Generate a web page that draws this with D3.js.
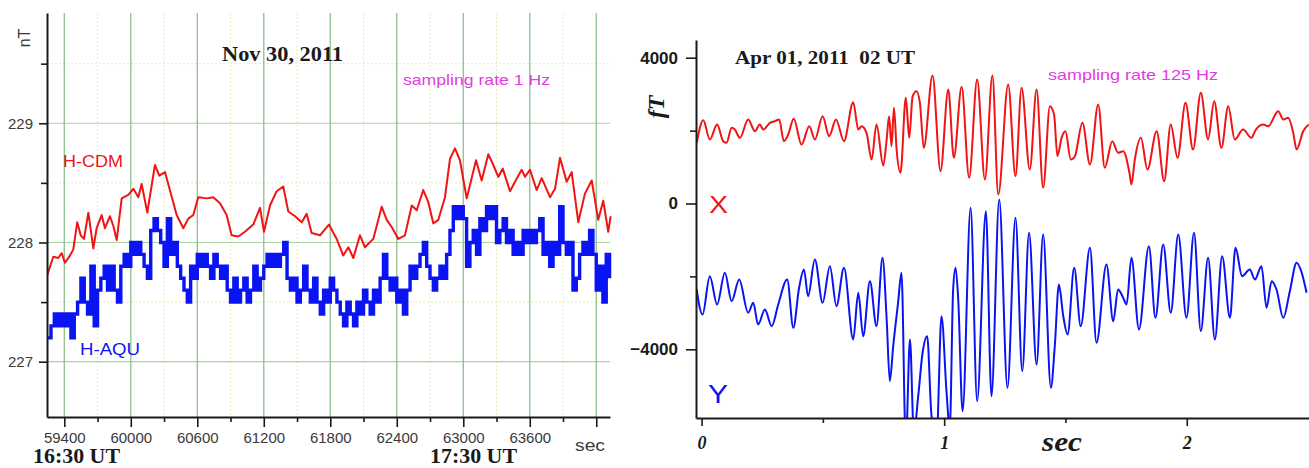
<!DOCTYPE html>
<html>
<head>
<meta charset="utf-8">
<script src="https://d3js.org/d3.v7.min.js"></script>
<style>
  body { margin: 0; background: #fff; }
  svg { display: block; }
</style>
</head>
<body>
<script>
// ---------- left panel data (Nov 30, 2011, 1 Hz) ----------
const leftMajorTicks = [59400, 60000, 60600, 61200, 61800, 62400, 63000, 63600, 64200];
const leftMinorTicks = [59700, 60300, 60900, 61500, 62100, 62700, 63300, 63900];
const leftTickLabels = ['59400', '60000', '60600', '61200', '61800', '62400', '63000', '63600', ''];
const leftYTicks = [227, 228, 229];
const leftYMinor = [227.5, 228.5, 229.5];

// H-CDM, [sec, nT]
const cdmSeries = [
  [59247,227.73],[59301,227.88],[59346,227.87],[59377,227.91],[59406,227.83],[59451,227.89],
  [59481,227.94],[59517,228.17],[59548,228.06],[59578,228.03],[59617,228.25],[59662,227.95],
  [59692,228.12],[59737,228.23],[59767,228.12],[59812,228.22],[59842,228.14],[59873,228.02],
  [59918,228.37],[59977,228.40],[60023,228.45],[60068,228.38],[60098,228.49],[60149,228.25],
  [60218,228.65],[60257,228.56],[60309,228.59],[60338,228.49],[60414,228.23],[60474,228.12],
  [60519,228.20],[60564,228.23],[60609,228.38],[60685,228.37],[60744,228.38],[60805,228.33],
  [60865,228.23],[60910,228.06],[60970,228.05],[61030,228.09],[61105,228.15],[61166,228.29],
  [61202,228.09],[61256,228.31],[61316,228.43],[61376,228.47],[61421,228.26],[61482,228.22],
  [61542,228.17],[61587,228.24],[61632,228.08],[61707,228.06],[61788,228.15],[61858,228.03],
  [61917,227.89],[61963,227.96],[62008,227.87],[62068,228.06],[62113,227.96],[62188,228.03],
  [62264,228.30],[62309,228.19],[62354,228.13],[62414,228.03],[62474,228.06],[62535,228.31],
  [62580,228.27],[62639,228.44],[62684,228.34],[62730,228.16],[62775,228.19],[62835,228.38],
  [62880,228.70],[62925,228.79],[62970,228.69],[63031,228.37],[63076,228.54],[63115,228.69],
  [63166,228.52],[63226,228.74],[63271,228.65],[63316,228.55],[63356,228.62],[63422,228.43],
  [63467,228.51],[63527,228.61],[63557,228.55],[63602,228.61],[63662,228.44],[63708,228.54],
  [63783,228.38],[63828,228.45],[63873,228.71],[63933,228.51],[63978,228.59],[64038,228.17],
  [64098,228.41],[64159,228.52],[64218,228.19],[64263,228.35],[64308,228.09],[64330,228.22]
];

// H-AQU, one reading every 30 s starting at 59250 s (nT, 0.1 nT steps)
const aquStart = 59250, aquStep = 30;
const aquValues = [
  227.2,227.3,227.4,227.3,227.4,227.3,227.4,227.2,227.4,227.5,227.7,227.5,227.4,227.8,227.3,
  227.6,227.7,227.8,227.6,227.8,227.6,227.5,227.8,227.9,227.8,228.0,227.9,228.0,227.9,227.8,
  227.7,228.1,228.2,228.1,228.0,227.8,228.2,227.9,228.0,227.8,227.7,227.6,227.5,227.8,227.7,
  227.9,227.8,227.9,227.8,227.7,227.9,227.8,227.7,227.8,227.6,227.5,227.7,227.5,227.6,227.7,
  227.5,227.6,227.8,227.6,227.7,227.8,227.9,227.8,227.9,227.8,227.9,228.0,227.7,227.6,227.7,
  227.5,227.6,227.8,227.6,227.5,227.7,227.5,227.4,227.6,227.5,227.7,227.6,227.5,227.4,227.3,
  227.5,227.4,227.3,227.5,227.4,227.6,227.5,227.4,227.6,227.5,227.7,227.9,227.7,227.6,227.7,
  227.5,227.6,227.4,227.6,227.8,227.7,227.8,227.9,228.0,227.8,227.7,227.6,227.7,227.8,227.7,
  227.9,228.1,228.3,228.2,228.3,228.2,227.8,228.0,228.1,227.9,228.2,228.1,228.3,228.2,228.3,
  228.0,228.1,228.2,228.0,228.1,227.9,228.0,227.9,228.1,228.0,228.1,228.0,228.1,228.2,227.9,
  228.0,227.8,228.0,227.9,228.3,228.0,227.9,228.0,227.6,227.7,227.9,228.0,227.9,228.1,227.9,
  227.6,227.8,227.5,227.9,227.7
];

// ---------- right panel data (Apr 01, 2011 02 UT, 125 Hz) ----------
const rightXTicks = [0, 1, 2];
const rightXMinor = [0.5, 1.5];
const rightYTicks = [-4000, 0, 4000];
const rightYMinor = [-2000, 2000];

// X component, [sec, fT]
const xSeries = [
  [-0.02,1665],[0.007,2285],[0.034,1756],[0.064,2167],[0.089,1710],[0.103,1665],[0.124,2076],
  [0.137,2030],[0.158,1801],[0.192,2304],[0.220,1984],[0.240,2167],[0.254,2030],[0.282,2213],
  [0.302,2259],[0.320,2304],[0.339,1710],[0.357,1893],[0.380,2323],[0.412,1618],[0.444,2121],
  [0.467,1756],[0.499,2395],[0.526,1847],[0.554,2304],[0.587,1710],[0.625,2780],[0.646,2030],
  [0.660,2121],[0.680,1938],[0.701,1207],[0.721,2167],[0.749,1042],[0.763,1756],[0.773,2395],
  [0.783,1573],[0.793,2624],[0.804,1481],[0.820,841],[0.842,2899],[0.856,1801],[0.870,2944],
  [0.886,3081],[0.900,2761],[0.916,1527],[0.952,3511],[0.985,887],[1.017,3127],[1.040,1253],
  [1.072,3200],[1.103,704],[1.136,3401],[1.168,658],[1.199,3511],[1.223,247],[1.264,3264],
  [1.294,750],[1.319,3173],[1.353,933],[1.381,3127],[1.408,430],[1.436,2670],[1.453,2441],
  [1.467,1298],[1.484,1801],[1.500,1984],[1.522,1207],[1.539,1298],[1.570,2213],[1.601,1070],
  [1.635,2716],[1.662,978],[1.693,1710],[1.717,1390],[1.738,1436],[1.765,795],[1.772,521],
  [1.786,1207],[1.811,1801],[1.838,933],[1.876,1984],[1.907,613],[1.934,2167],[1.962,1253],
  [1.995,2761],[2.026,1481],[2.058,3036],[2.088,1756],[2.113,2807],[2.143,1527],[2.171,2670],
  [2.198,1756],[2.232,2030],[2.267,1801],[2.281,1984],[2.315,2167],[2.336,2121],[2.377,2533],
  [2.398,2304],[2.418,2350],[2.439,1938],[2.453,1481],[2.480,1984],[2.503,2167]
];

// Y component, [sec, fT]
const ySeries = [
  [-0.02,-2359],[-0.014,-2633],[0.004,-3045],[0.034,-1994],[0.064,-2770],[0.096,-1901],
  [0.124,-2680],[0.155,-2085],[0.192,-2998],[0.213,-2724],[0.233,-3319],[0.261,-2908],
  [0.289,-3366],[0.316,-2770],[0.353,-2085],[0.378,-3410],[0.402,-2312],[0.422,-1810],
  [0.439,-2543],[0.467,-1536],[0.499,-2724],[0.529,-1720],[0.556,-2817],[0.587,-1764],
  [0.625,-3730],[0.646,-2450],[0.666,-3640],[0.694,-2131],[0.721,-3366],[0.746,-1489],
  [0.763,-3182],[0.776,-4874],[0.790,-3914],[0.810,-2724],[0.824,-1901],[0.842,-6600],
  [0.859,-3730],[0.875,-6300],[0.893,-5286],[0.911,-4095],[0.930,-3640],[0.948,-5834],
  [0.969,-6400],[0.989,-3091],[1.010,-5193],[1.023,-6200],[1.037,-2359],[1.047,-1764],
  [1.058,-2633],[1.076,-5697],[1.109,-118],[1.136,-5423],[1.172,-210],[1.195,-5286],
  [1.227,110],[1.261,-5056],[1.294,-393],[1.322,-4599],[1.350,-805],[1.381,-4416],
  [1.408,-850],[1.440,-5056],[1.456,-3914],[1.473,-2222],[1.491,-3091],[1.509,-3593],
  [1.536,-1764],[1.563,-3366],[1.601,-1216],[1.628,-3822],[1.669,-1673],[1.697,-3228],
  [1.717,-2359],[1.738,-2587],[1.752,-2770],[1.772,-1489],[1.803,-3456],[1.844,-1171],
  [1.871,-3136],[1.903,-1125],[1.934,-2998],[1.965,-850],[1.999,-3136],[2.030,-805],
  [2.058,-3502],[2.088,-1489],[2.116,-3730],[2.146,-1445],[2.178,-3136],[2.201,-1216],
  [2.228,-1994],[2.260,-1810],[2.281,-2085],[2.308,-1720],[2.329,-2861],[2.350,-2131],
  [2.370,-2359],[2.398,-3136],[2.425,-2405],[2.453,-1627],[2.474,-1901],[2.494,-2450]
];

const sans = '"Liberation Sans", Arial, sans-serif';
const serif = '"Liberation Serif", "Times New Roman", serif';

const svg = d3.select('body').append('svg')
  .attr('width', 1309).attr('height', 468);
svg.append('rect').attr('width', 1309).attr('height', 468).attr('fill', '#fff');

// ================= left panel =================
const xL = d3.scaleLinear().domain([59244, 64324]).range([47, 610]);
const yL = d3.scaleLinear().domain([226.536, 229.925]).range([417, 13]);

const gridL = svg.append('g');
gridL.selectAll('.vmin').data(leftMinorTicks).enter().append('line')
  .attr('x1', d => xL(d)).attr('x2', d => xL(d)).attr('y1', 13).attr('y2', 417)
  .attr('stroke', '#e4edbb').attr('stroke-width', 1).attr('stroke-dasharray', '2,2');
gridL.selectAll('.hmin').data(leftYMinor).enter().append('line')
  .attr('x1', 47).attr('x2', 610).attr('y1', d => yL(d)).attr('y2', d => yL(d))
  .attr('stroke', '#e4edbb').attr('stroke-width', 1).attr('stroke-dasharray', '2,2');
gridL.selectAll('.hmaj').data(leftYTicks).enter().append('line')
  .attr('x1', 47).attr('x2', 610).attr('y1', d => yL(d)).attr('y2', d => yL(d))
  .attr('stroke', '#a9d3a2').attr('stroke-width', 1.2);
gridL.selectAll('.vmaj').data(leftMajorTicks).enter().append('line')
  .attr('x1', d => xL(d)).attr('x2', d => xL(d)).attr('y1', 13).attr('y2', 417)
  .attr('stroke', '#8dbf8d').attr('stroke-width', 1.3);

svg.append('clipPath').attr('id', 'clipL').append('rect')
  .attr('x', 47).attr('y', 13).attr('width', 566).attr('height', 404);

const plotL = svg.append('g').attr('clip-path', 'url(#clipL)');
plotL.append('path').datum(aquValues)
  .attr('d', d3.line().curve(d3.curveStepAfter)
    .x((d, i) => xL(aquStart + i * aquStep)).y(d => yL(d)))
  .attr('fill', 'none').attr('stroke', '#0a14f2').attr('stroke-width', 3.4)
  .attr('stroke-linejoin', 'miter');
plotL.append('path').datum(cdmSeries)
  .attr('d', d3.line().x(d => xL(d[0])).y(d => yL(d[1])))
  .attr('fill', 'none').attr('stroke', '#f01414').attr('stroke-width', 2)
  .attr('stroke-linejoin', 'round');

// axes
const axL = svg.append('g').attr('transform', 'translate(0,417)')
  .call(d3.axisBottom(xL).tickValues(leftMajorTicks).tickSize(10).tickSizeOuter(0)
    .tickPadding(5).tickFormat((d, i) => leftTickLabels[i]));
svg.append('g').attr('transform', 'translate(0,417)')
  .call(d3.axisBottom(xL).tickValues(leftMinorTicks).tickSize(5).tickFormat(''))
  .select('.domain').remove();
const ayL = svg.append('g').attr('transform', 'translate(47,0)')
  .call(d3.axisLeft(yL).tickValues(leftYTicks).tickSize(8).tickSizeOuter(0)
    .tickPadding(6).tickFormat(d3.format('d')));
svg.append('g').attr('transform', 'translate(47,0)')
  .call(d3.axisLeft(yL).tickValues(leftYMinor).tickSize(6).tickFormat(''))
  .select('.domain').remove();

// ================= right panel =================
const xR = d3.scaleLinear().domain([-0.023, 2.504]).range([696, 1309]);
const yR = d3.scaleLinear().domain([-5885, 4486]).range([418, 40]);

svg.append('clipPath').attr('id', 'clipR').append('rect')
  .attr('x', 696).attr('y', 40).attr('width', 613).attr('height', 378);

const plotR = svg.append('g').attr('clip-path', 'url(#clipR)');
const lineR = d3.line().curve(d3.curveMonotoneX).x(d => xR(d[0])).y(d => yR(d[1]));
plotR.append('path').datum(xSeries).attr('d', lineR)
  .attr('fill', 'none').attr('stroke', '#f01414').attr('stroke-width', 2);
plotR.append('path').datum(ySeries).attr('d', lineR)
  .attr('fill', 'none').attr('stroke', '#0a14f2').attr('stroke-width', 2);

const axR = svg.append('g').attr('transform', 'translate(0,418)')
  .call(d3.axisBottom(xR).tickValues(rightXTicks).tickSize(8).tickSizeOuter(0)
    .tickPadding(10).tickFormat(d3.format('d')));
svg.append('g').attr('transform', 'translate(0,418)')
  .call(d3.axisBottom(xR).tickValues(rightXMinor).tickSize(5).tickFormat(''))
  .select('.domain').remove();
const ayR = svg.append('g').attr('transform', 'translate(696,0)')
  .call(d3.axisLeft(yR).tickValues(rightYTicks).tickSize(10).tickSizeOuter(0)
    .tickPadding(8).tickFormat(d3.format('d')));
svg.append('g').attr('transform', 'translate(696,0)')
  .call(d3.axisLeft(yR).tickValues(rightYMinor).tickSize(6).tickFormat(''))
  .select('.domain').remove();

// axis styling
svg.selectAll('.domain').attr('stroke', '#1a1a1a').attr('stroke-width', 2);
svg.selectAll('.tick line').attr('stroke', '#1a1a1a').attr('stroke-width', 1.6);
[axL, ayL].forEach(g => g.selectAll('text')
  .attr('font-family', sans).attr('font-size', 15).attr('fill', '#3a3a3a'));
ayR.selectAll('text').attr('font-family', sans).attr('font-size', 17)
  .attr('font-weight', 'bold').attr('fill', '#1a1a1a');
axR.selectAll('text').attr('font-family', serif).attr('font-size', 18)
  .attr('font-weight', 'bold').attr('font-style', 'italic').attr('fill', '#1a1a1a');

// ================= labels =================
function label(txt, x, y, opts) {
  const t = svg.append('text').attr('x', x).attr('y', y).text(txt)
    .attr('font-family', opts.family || sans)
    .attr('font-size', opts.size)
    .attr('fill', opts.color || '#1a1a1a')
    .style('white-space', 'pre');
  if (opts.weight) t.attr('font-weight', opts.weight);
  if (opts.style) t.attr('font-style', opts.style);
  if (opts.anchor) t.attr('text-anchor', opts.anchor);
  if (opts.len) t.attr('textLength', opts.len).attr('lengthAdjust', 'spacingAndGlyphs');
  if (opts.rotate) t.attr('transform', `rotate(-90,${x},${y})`);
  return t;
}

// left
label('nT', 30, 38, { size: 16, color: '#333', anchor: 'middle', rotate: true });
label('Nov 30, 2011', 222, 61, { family: serif, size: 21, weight: 'bold', len: 121 });
label('sampling rate 1 Hz', 403, 85, { size: 15, color: '#e23ce2', len: 147 });
label('H-CDM', 63, 167, { size: 17, color: '#f01414', len: 60 });
label('H-AQU', 80, 355, { size: 17, color: '#0a14f2', len: 60 });
label('sec', 575, 451, { size: 16, color: '#3a3a3a', len: 30 });
label('16:30 UT', 33, 463, { family: serif, size: 21, weight: 'bold', len: 87 });
label('17:30 UT', 430, 463, { family: serif, size: 21, weight: 'bold', len: 87 });

// right
label('fT', 664, 107, { family: serif, size: 24, weight: 'bold', style: 'italic', anchor: 'middle', rotate: true });
label('Apr 01, 2011  02 UT', 735, 64, { family: serif, size: 18, weight: 'bold', len: 180 });
label('sampling rate 125 Hz', 1048, 80, { size: 15, color: '#e23ce2', len: 170 });
label('X', 709, 213, { size: 24, color: '#f01414', len: 19 });
label('Y', 708, 403, { size: 25, color: '#0a14f2', len: 20 });
label('sec', 1042, 451, { family: serif, size: 28, weight: 'bold', style: 'italic', len: 40 });
</script>
</body>
</html>
